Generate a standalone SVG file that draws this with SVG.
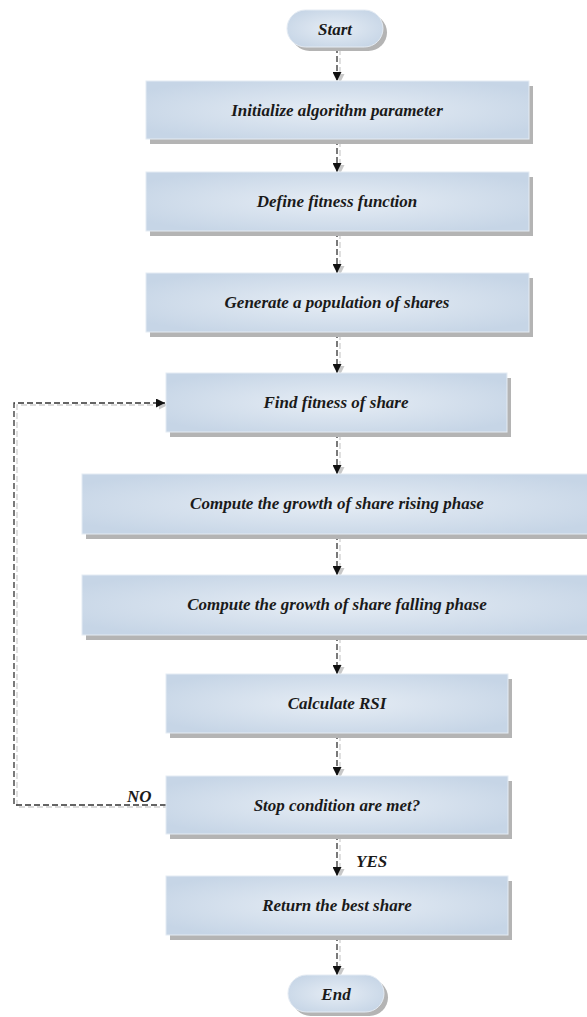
<svg xmlns="http://www.w3.org/2000/svg" width="587" height="1017" viewBox="0 0 587 1017">
<defs>
<radialGradient id="g" cx="50%" cy="50%" r="60%">
<stop offset="0" stop-color="#e6edf5"/>
<stop offset="1" stop-color="#c6d5e6"/>
</radialGradient>
<marker id="ah" viewBox="0 0 10 10" refX="10" refY="5" markerWidth="9" markerHeight="9" markerUnits="userSpaceOnUse" orient="auto">
<path d="M0,0 L10,5 L0,10 z" fill="#111"/>
</marker>
<marker id="ahs" viewBox="0 0 10 10" refX="10" refY="5" markerWidth="9" markerHeight="9" markerUnits="userSpaceOnUse" orient="auto">
<path d="M0,0 L10,5 L0,10 z" fill="#c8c8c8"/>
</marker>
</defs>
<style>
.box{fill:url(#g);stroke:#e4ebf3;stroke-width:1}
.sh{fill:#b4b4b4}
.t{font-family:"Liberation Serif","Times New Roman",serif;font-weight:bold;font-style:italic;font-size:17px;fill:#1a1a1a;text-anchor:middle}
.l{font-family:"Liberation Serif","Times New Roman",serif;font-weight:bold;font-style:italic;font-size:17px;fill:#1a1a1a}
.c{fill:none;stroke:#333;stroke-width:1.3;stroke-dasharray:6,3}
.cs{fill:none;stroke:#cfcfcf;stroke-width:1.3;stroke-dasharray:6,3}
</style>
<rect width="587" height="1017" fill="#fff"/>
<g id="connectors">
<g transform="translate(3,2)">
<path class="cs" d="M337,47 V81" marker-end="url(#ahs)"/>
<path class="cs" d="M337,139 V172" marker-end="url(#ahs)"/>
<path class="cs" d="M337,231 V273" marker-end="url(#ahs)"/>
<path class="cs" d="M337,332 V373" marker-end="url(#ahs)"/>
<path class="cs" d="M337,432 V474" marker-end="url(#ahs)"/>
<path class="cs" d="M337,534 V575" marker-end="url(#ahs)"/>
<path class="cs" d="M337,635 V674" marker-end="url(#ahs)"/>
<path class="cs" d="M337,733 V776" marker-end="url(#ahs)"/>
<path class="cs" d="M337,834 V876" marker-end="url(#ahs)"/>
<path class="cs" d="M337,935 V975" marker-end="url(#ahs)"/>
<path class="cs" d="M166,805 H14 V403 H165" marker-end="url(#ahs)"/>
</g>
<path class="c" d="M337,47 V81" marker-end="url(#ah)"/>
<path class="c" d="M337,139 V172" marker-end="url(#ah)"/>
<path class="c" d="M337,231 V273" marker-end="url(#ah)"/>
<path class="c" d="M337,332 V373" marker-end="url(#ah)"/>
<path class="c" d="M337,432 V474" marker-end="url(#ah)"/>
<path class="c" d="M337,534 V575" marker-end="url(#ah)"/>
<path class="c" d="M337,635 V674" marker-end="url(#ah)"/>
<path class="c" d="M337,733 V776" marker-end="url(#ah)"/>
<path class="c" d="M337,834 V876" marker-end="url(#ah)"/>
<path class="c" d="M337,935 V975" marker-end="url(#ah)"/>
<path class="c" d="M166,805 H14 V403 H165" marker-end="url(#ah)"/>
<text class="l" x="127" y="802">NO</text>
<text class="l" x="356" y="867">YES</text>
</g>
<g id="start">
<rect class="sh" x="291" y="14" width="96" height="37" rx="18.5"/>
<rect class="box" x="287" y="10" width="96" height="37" rx="18.5"/>
<text class="t" x="335" y="35">Start</text>
</g>
<g id="init">
<rect class="sh" x="150" y="86" width="383" height="58"/>
<rect class="box" x="146" y="81" width="383" height="58"/>
<text class="t" x="337" y="116">Initialize algorithm parameter</text>
</g>
<g id="define">
<rect class="sh" x="150" y="177" width="383" height="59"/>
<rect class="box" x="146" y="172" width="383" height="59"/>
<text class="t" x="337" y="207">Define fitness function</text>
</g>
<g id="generate">
<rect class="sh" x="150" y="278" width="383" height="59"/>
<rect class="box" x="146" y="273" width="383" height="59"/>
<text class="t" x="337" y="308">Generate a population of shares</text>
</g>
<g id="find">
<rect class="sh" x="170" y="378" width="341" height="59"/>
<rect class="box" x="166" y="373" width="341" height="59"/>
<text class="t" x="336" y="408">Find fitness of share</text>
</g>
<g id="rising">
<rect class="sh" x="86" y="479" width="510" height="60"/>
<rect class="box" x="82" y="474" width="510" height="60"/>
<text class="t" x="337" y="509">Compute the growth of share rising phase</text>
</g>
<g id="falling">
<rect class="sh" x="86" y="580" width="510" height="60"/>
<rect class="box" x="82" y="575" width="510" height="60"/>
<text class="t" x="337" y="610">Compute the growth of share falling phase</text>
</g>
<g id="rsi">
<rect class="sh" x="170" y="679" width="342" height="59"/>
<rect class="box" x="166" y="674" width="342" height="59"/>
<text class="t" x="337" y="709">Calculate RSI</text>
</g>
<g id="stop">
<rect class="sh" x="170" y="781" width="342" height="58"/>
<rect class="box" x="166" y="776" width="342" height="58"/>
<text class="t" x="337" y="811">Stop condition are met?</text>
</g>
<g id="return">
<rect class="sh" x="170" y="881" width="342" height="59"/>
<rect class="box" x="166" y="876" width="342" height="59"/>
<text class="t" x="337" y="911">Return the best share</text>
</g>
<g id="end">
<rect class="sh" x="292" y="979" width="96" height="37" rx="18.5"/>
<rect class="box" x="288" y="975" width="96" height="37" rx="18.5"/>
<text class="t" x="336" y="1000">End</text>
</g>
</svg>
